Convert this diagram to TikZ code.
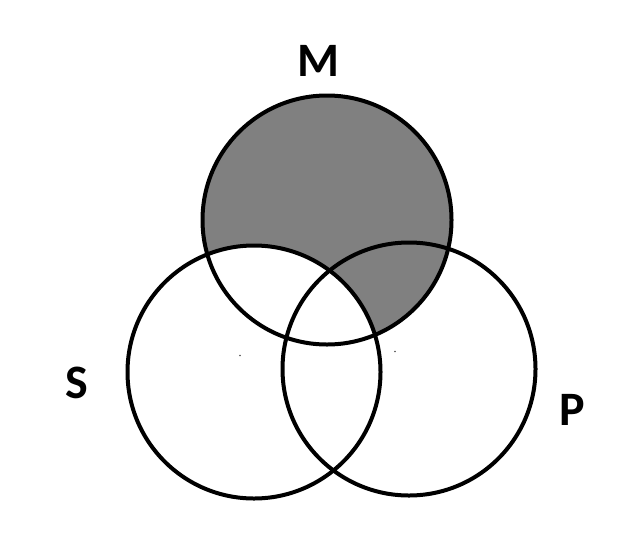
\documentclass[tikz,border=0pt]{standalone}
\usepackage{fontspec}
\setmainfont{Carlito}
\tikzset{
  ring/.style={draw=black, line width=4pt},
  setlabel/.style={font=\bfseries\fontsize{48}{48}\selectfont, inner sep=0pt, anchor=center},
  speck/.style={fill=black!70}
}
\begin{document}
\begin{tikzpicture}[x=1pt,y=-1pt]
\useasboundingbox (0,0) rectangle (636,557);
\fill[white] (0,0) rectangle (636,557);
\coordinate (cM) at (327,220);
\coordinate (cS) at (254,372);
\coordinate (cP) at (409,369);
\begin{scope}
  \clip (cM) circle (124.5);
  \fill[gray] (cM) circle (124.5);
  \fill[white] (cS) circle (126.5);
\end{scope}
\draw[ring] (cM) circle (124.5);
\draw[ring] (cS) circle (126.5);
\draw[ring] (cP) circle (126.5);
\fill[speck] (240,355.5) circle (0.8);
\fill[speck] (395,351.5) circle (0.8);
\node[setlabel] (lM) at (318.5,61) {M};
\node[setlabel] (lS) at (76.5,383) {S};
\node[setlabel] (lP) at (572,410) {P};
\end{tikzpicture}
\end{document}
